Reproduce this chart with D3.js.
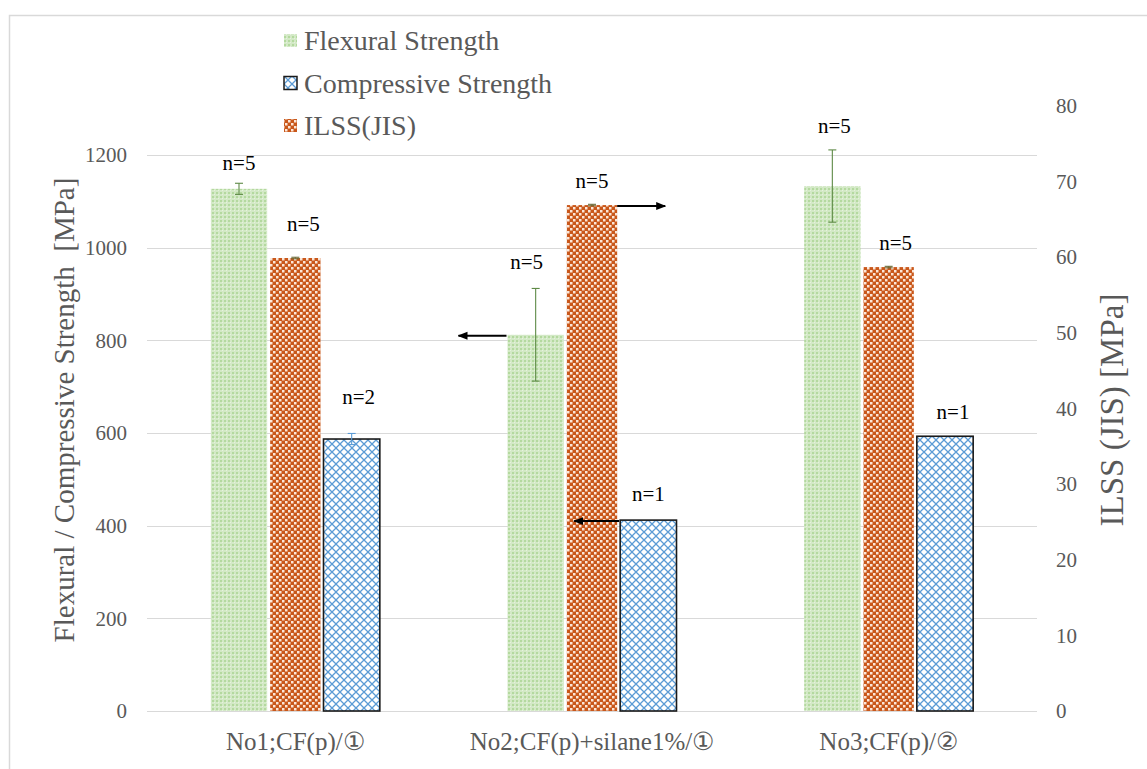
<!DOCTYPE html>
<html><head><meta charset="utf-8">
<script src="https://cdn.jsdelivr.net/npm/d3@7"></script>
<style>
html,body{margin:0;padding:0;background:#fff;}
svg{display:block;}
</style></head>
<body>
<svg id="chart" width="1147" height="769"></svg>
<script>
const categories = ["No1;CF(p)/①", "No2;CF(p)+silane1%/①", "No3;CF(p)/②"];
const flexural = [1127, 812, 1133];
const flexuralErr = [12, 100, 78];
const ilss = [59.9, 66.9, 58.7];
const ilssErr = [0.1, 0.1, 0.1];
const compressive = [587, 412, 593];
const compressiveErr = [12, 0, 0];
const nFlexural = ["n=5", "n=5", "n=5"];
const nIlss = ["n=5", "n=5", "n=5"];
const nCompressive = ["n=2", "n=1", "n=1"];
const leftTicks = [0, 200, 400, 600, 800, 1000, 1200];
const rightTicks = [0, 10, 20, 30, 40, 50, 60, 70, 80];
const legendLabels = ["Flexural Strength", "Compressive Strength", "ILSS(JIS)"];

// label nudges (layout only)
const nudgeFlex = [[0,-13],[-9,-19],[2,-17]];
const nudgeIlss = [[8,-26],[0,-16],[7,-16]];
const nudgeComp = [[7,-29],[0,-19],[8,-17]];

const FONT = '"Liberation Serif","Tinos","Times New Roman","DejaVu Serif",serif';
const svg = d3.select("#chart");
const defs = svg.append("defs");
// green fine pattern
const pg = defs.append("pattern").attr("id","pGreen").attr("patternUnits","userSpaceOnUse").attr("width",4).attr("height",4);
pg.append("rect").attr("width",4).attr("height",4).attr("fill","#d3e9c6");
pg.append("rect").attr("x",0).attr("y",0).attr("width",2).attr("height",2).attr("fill","#b4d99f");
pg.append("rect").attr("x",2).attr("y",2).attr("width",1).attr("height",1).attr("fill","#e6f2de");
// orange checker
const po = defs.append("pattern").attr("id","pOrange").attr("patternUnits","userSpaceOnUse").attr("width",6).attr("height",6);
po.append("rect").attr("width",6).attr("height",6).attr("fill","#c9571a");
po.append("rect").attr("x",0).attr("y",0).attr("width",2.5).attr("height",2.5).attr("fill","#fbe6d8");
po.append("rect").attr("x",3).attr("y",3).attr("width",2.5).attr("height",2.5).attr("fill","#fbe6d8");
// blue diamond lattice
const pb = defs.append("pattern").attr("id","pBlue").attr("patternUnits","userSpaceOnUse").attr("width",8).attr("height",8);
pb.append("rect").attr("width",8).attr("height",8).attr("fill","#ffffff");
pb.append("path").attr("d","M0,0L8,8M8,0L0,8").attr("stroke","#5b9bd5").attr("stroke-width",1.3);

// frame
svg.append("rect").attr("x",9.5).attr("y",15.5).attr("width",1160).attr("height",800)
  .attr("fill","none").attr("stroke","#d9d9d9").attr("stroke-width",1.5);

const plotL = 147, plotR = 1037, base = 711;
const x = d3.scaleBand().domain(categories).range([plotL, plotR]).padding(0);
const yL = d3.scaleLinear().domain([0, 1200]).range([base, 155]);
const yR = d3.scaleLinear().domain([0, 80]).range([base, 106]);
const sub = d3.scaleBand().domain(["flex","ilss","comp"]).range([-84.5, 84.5]).padding(0);
const cx = c => x(c) + x.bandwidth()/2;

const grey = "#595959";
// gridlines
svg.append("g").selectAll("line").data(leftTicks).join("line")
  .attr("x1", plotL).attr("x2", plotR)
  .attr("y1", d => Math.round(yL(d))+0.5).attr("y2", d => Math.round(yL(d))+0.5)
  .attr("stroke", "#d9d9d9").attr("stroke-width", 1);

// left axis
const axL = d3.axisLeft(yL).tickValues(leftTicks).tickSize(0).tickPadding(0).tickFormat(d3.format("d"));
const gL = svg.append("g").attr("transform", "translate(127,0)").call(axL);
gL.attr("font-family", FONT).attr("font-size", 21);
gL.select(".domain").remove();
gL.selectAll("text").attr("fill", grey);

// right axis
const axR = d3.axisRight(yR).tickValues(rightTicks).tickSize(0).tickPadding(0).tickFormat(d3.format("d"));
const gR = svg.append("g").attr("transform", "translate(1056,0)").call(axR);
gR.attr("font-family", FONT).attr("font-size", 21);
gR.select(".domain").remove();
gR.selectAll("text").attr("fill", grey);

// category axis
const axB = d3.axisBottom(x).tickSize(0).tickPadding(0);
const gB = svg.append("g").attr("transform", `translate(0,${base})`).call(axB);
gB.attr("font-family", FONT).attr("font-size", 25);
gB.select(".domain").remove();
gB.selectAll("text").attr("fill", grey).attr("dy", "1.55em");

// axis titles
svg.append("text").attr("transform", "translate(74,410) rotate(-90)").attr("text-anchor","middle")
  .attr("font-family", FONT).attr("fill", grey).attr("font-size", 29).style("white-space","pre")
  .text("Flexural / Compressive Strength  [MPa]");
svg.append("text").attr("transform", "translate(1123,410) rotate(-90)").attr("text-anchor","middle")
  .attr("font-family", FONT).attr("fill", grey).attr("font-size", 33).text("ILSS (JIS) [MPa]");

const barsG = svg.append("g");
function drawBars(key, vals, errs, yS, fill, opts) {
  const data = categories.map((c,i)=>({c, v: vals[i], e: errs[i], i}));
  const shrink = opts.shrink || 0;
  barsG.append("g").selectAll("rect").data(data).join("rect")
    .attr("x", d => cx(d.c) + sub(key) + shrink)
    .attr("width", sub.bandwidth() - 2*shrink)
    .attr("y", d => yS(d.v)).attr("height", d => base - yS(d.v))
    .attr("fill", fill)
    .attr("stroke", opts.stroke || "none").attr("stroke-width", opts.stroke ? 1.6 : 0);
  const eg = barsG.append("g").attr("stroke", opts.errColor).attr("stroke-width", 1.1);
  data.filter(d=>d.e>0).forEach(d => {
    const mx = cx(d.c) + sub(key) + sub.bandwidth()/2;
    const y1 = yS(d.v + d.e), y2 = yS(d.v - d.e);
    eg.append("line").attr("x1",mx).attr("x2",mx).attr("y1",y1).attr("y2",y2);
    eg.append("line").attr("x1",mx-4).attr("x2",mx+4).attr("y1",y1).attr("y2",y1);
    eg.append("line").attr("x1",mx-4).attr("x2",mx+4).attr("y1",y2).attr("y2",y2);
  });
  const lbl = opts.labels, nudge = opts.nudge;
  barsG.append("g").selectAll("text").data(data).join("text")
    .attr("x", d => cx(d.c) + sub(key) + sub.bandwidth()/2 + nudge[d.i][0])
    .attr("y", d => yS(d.v + d.e) + nudge[d.i][1])
    .attr("text-anchor","middle").attr("font-family", FONT).attr("font-size", 21).attr("fill","#000")
    .text(d => lbl[d.i]);
}
drawBars("flex", flexural, flexuralErr, yL, "url(#pGreen)", {errColor:"#5e8a46", labels:nFlexural, nudge:nudgeFlex});
drawBars("ilss", ilss, ilssErr, yR, "url(#pOrange)", {errColor:"#6b6b3a", labels:nIlss, nudge:nudgeIlss, shrink:3});
drawBars("comp", compressive, compressiveErr, yL, "url(#pBlue)", {errColor:"#5b9bd5", labels:nCompressive, nudge:nudgeComp, stroke:"#1a1a1a"});

// arrows (annotations pointing to the relevant axis)
defs.append("marker").attr("id","arr").attr("viewBox","0 0 10 10").attr("refX",9).attr("refY",5)
  .attr("markerWidth",5).attr("markerHeight",5).attr("markerUnits","strokeWidth").attr("orient","auto")
  .append("path").attr("d","M0,1L10,5L0,9Z").attr("fill","#000");
const arrows = [
  {key:"flex", cat:1, val: flexural[1], scale: yL, dir:-1, len:48, edge:"left"},
  {key:"ilss", cat:1, val: ilss[1], scale: yR, dir:1, len:48, edge:"right"},
  {key:"comp", cat:1, val: compressive[1], scale: yL, dir:-1, len:45, edge:"left"}
];
arrows.forEach(a => {
  const c = categories[a.cat];
  const sh = a.key === "ilss" ? 3 : 0;
  const x0 = a.edge === "left" ? cx(c) + sub(a.key) + sh - 1 : cx(c) + sub(a.key) + sub.bandwidth() - sh;
  const y0 = a.scale(a.val) + 1;
  svg.append("line").attr("x1", x0).attr("x2", x0 + a.dir*a.len).attr("y1", y0).attr("y2", y0)
    .attr("stroke","#000").attr("stroke-width",2).attr("marker-end","url(#arr)");
});

// legend
const legFills = ["url(#pGreen)", "url(#pBlue)", "url(#pOrange)"];
const lg = svg.append("g");
legendLabels.forEach((t,i) => {
  const yy = 41 + i*42.5;
  lg.append("rect").attr("x",284).attr("y",yy-7).attr("width",13).attr("height",13)
    .attr("fill",legFills[i]).attr("stroke", i===1 ? "#1a1a1a" : "none").attr("stroke-width",1.5);
  lg.append("text").attr("x",304).attr("y",yy+9).attr("font-family", FONT).attr("fill",grey).attr("font-size",28).text(t);
});
</script>
</body></html>
